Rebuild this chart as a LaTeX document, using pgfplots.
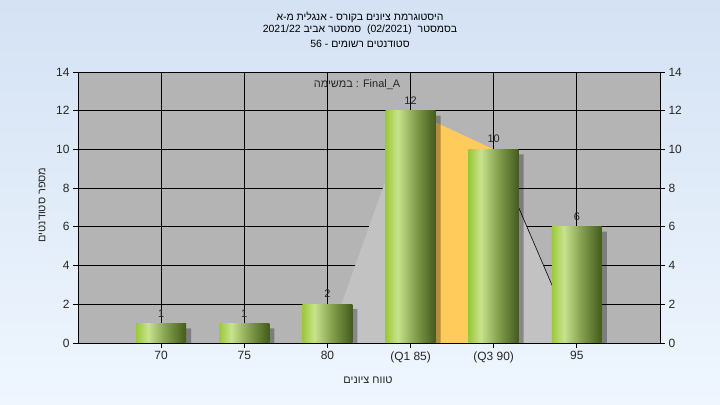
\documentclass[border=0pt]{standalone}
\usepackage{fontspec}
\setmainfont{Liberation Sans}
\newfontfamily\heb[Script=Hebrew]{Liberation Sans}
\TeXXeTstate=1
\usepackage{pgfplots}
\pgfplotsset{compat=1.18}
\definecolor{bgtop}{HTML}{D4E2F4}
\definecolor{bgbot}{HTML}{EFF6FE}
\definecolor{plotbg}{HTML}{B4B4B4}
\definecolor{areagray}{HTML}{C2C2C2}
\definecolor{qorange}{HTML}{FFCB5A}
\definecolor{gA}{HTML}{9CC83C}
\definecolor{gB}{HTML}{C8E38C}
\definecolor{gC}{HTML}{7E9A4A}
\definecolor{gD}{HTML}{435B1C}
\pgfdeclarehorizontalshading{barshade}{100bp}{color(0bp)=(gA); color(25bp)=(gA); color(37bp)=(gB); color(56bp)=(gC); color(75bp)=(gD); color(100bp)=(gD)}
\newcommand{\hw}[1]{{\heb\beginR #1\endR}}
\pgfplotsset{gbar/.style={ybar, bar width=50bp, bar shift=0pt, draw=none, shading=barshade,
  nodes near coords,
  every node near coord/.append style={font=\fontsize{11}{13}\selectfont, text=black!85, yshift=3bp}}}
\begin{document}
\begin{tikzpicture}
\fill[top color=bgtop, bottom color=bgbot] (0,0) rectangle (720bp,405bp);
\begin{axis}[
  at={(78bp,62bp)}, anchor=south west,
  scale only axis, width=582bp, height=271bp,
  xmin=-1, xmax=6, ymin=0, ymax=14,
  axis background/.style={fill=plotbg},
  xtick={0,...,5}, xticklabels={70,75,80,(Q1 85),(Q3 90),95},
  ytick={0,2,...,14},
  grid=major, major grid style={black, line width=0.8pt},
  axis line style={black, line width=0.8pt},
  tick style={black, line width=0.8pt},
  tick align=outside, major tick length=5bp,
  xtick pos=bottom, ytick pos=left,
  tick label style={font=\fontsize{12}{14}\selectfont, text=black!85},
  /pgf/number format/assume math mode=true,
]
\addplot[fill=areagray, draw=none] coordinates {(2,0)(3,12)(4,10)(5,0)} \closedcycle;
\addplot[fill=qorange, draw=none] coordinates {(3,12)(4,10)} \closedcycle;
\addplot[black, line width=0.6pt] coordinates {(4,10)(5,0)};
% shadow
\addplot[ybar, bar width=50bp, bar shift=5bp, draw=none, fill=black, fill opacity=0.3]
  coordinates {(0,0.75)(1,0.75)(2,1.75)(3,11.75)(4,9.75)(5,5.75)};
% bars
\addplot[gbar] coordinates {(0,1)};
\addplot[gbar] coordinates {(1,1)};
\addplot[gbar] coordinates {(2,2)};
\addplot[gbar] coordinates {(3,12)};
\addplot[gbar] coordinates {(4,10)};
\addplot[gbar] coordinates {(5,6)};
\end{axis}
\begin{axis}[
  at={(78bp,62bp)}, anchor=south west,
  scale only axis, width=582bp, height=271bp,
  xmin=-1, xmax=6, ymin=0, ymax=14,
  axis y line*=right, axis x line=none,
  ytick={0,2,...,14},
  axis line style={black, line width=0.8pt},
  tick style={black, line width=0.8pt},
  tick align=outside, major tick length=5bp,
  tick label style={font=\fontsize{12}{14}\selectfont, text=black!85},
  /pgf/number format/assume math mode=true,
]
\addplot[draw=none] coordinates {(0,0)};
\end{axis}
\node[font=\fontsize{10.5}{12}\selectfont] at (360bp,388bp) {\hw{היסטוגרמת ציונים בקורס - אנגלית מ-א}};
\node[font=\fontsize{10.5}{12}\selectfont] at (360bp,375bp) {\hw{בסמסטר\ \ \beginL(02/2021)\endL{}\ \ סמסטר אביב \beginL 2021/22\endL{}}};
\node[font=\fontsize{10.5}{12}\selectfont] at (360bp,361bp) {\hw{סטודנטים רשומים - \beginL 56\endL{}}};
\node[font=\fontsize{11}{13}\selectfont, text=black!85] at (357bp,320bp) {\hw{במשימה} : Final\_A};
\node[font=\fontsize{11}{13}\selectfont, text=black!85] at (368bp,25bp) {\hw{טווח ציונים}};
\node[font=\fontsize{11}{13}\selectfont, text=black!85, rotate=90] at (42bp,200bp) {\hw{מספר סטודנטים}};
\end{tikzpicture}
\end{document}
